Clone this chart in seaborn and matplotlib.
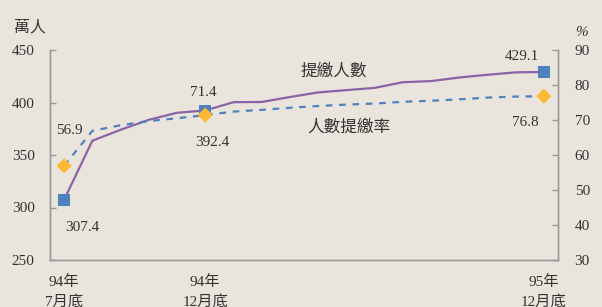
import matplotlib
matplotlib.use("Agg")
import matplotlib.pyplot as plt
import seaborn as sns
import pandas as pd
import numpy as np

months = ["94年7月", "94年8月", "94年9月", "94年10月", "94年11月", "94年12月",
          "95年1月", "95年2月", "95年3月", "95年4月", "95年5月", "95年6月",
          "95年7月", "95年8月", "95年9月", "95年10月", "95年11月", "95年12月"]
persons = [307.4, 363.6, 374.0, 383.5, 390.2, 392.4, 400.3, 400.5, 405.2, 409.6,
           411.8, 413.9, 419.3, 420.4, 423.8, 426.4, 428.7, 429.1]
rate = [56.9, 66.9, 68.5, 69.7, 70.5, 71.4, 72.4, 72.9, 73.5, 74.0,
        74.4, 74.7, 75.2, 75.5, 75.9, 76.4, 76.7, 76.8]
tick_labels = {0: "94年\n7月底", 5: "94年\n12月底", 17: "95年\n12月底"}
marked = [0, 5, 17]
left_label = "萬人"
right_label = "%"
persons_name = "提繳人數"
rate_name = "人數提繳率"

bg = "#E9E5DC"
purple = "#8C62A6"
blue = "#4F81BD"
orange = "#FDB836"
gray = "#9A9A9A"
txt = "#333333"

sns.set_style("white")
plt.rcParams["font.family"] = ["Liberation Serif", "Noto Sans CJK TC", "DejaVu Sans"]

df = pd.DataFrame({"i": np.arange(len(months)), "month": months,
                   "persons": persons, "rate": rate})
dm = df.iloc[marked]

fig = plt.figure(figsize=(6.02, 3.07), dpi=100, facecolor=bg)
ax = fig.add_axes([50 / 602, 47 / 307, 508 / 602, 210 / 307])
ax.set_facecolor(bg)
ax2 = ax.twinx()

sns.lineplot(data=df, x="i", y="persons", ax=ax, color=purple, lw=1.6, zorder=3)
sns.scatterplot(data=dm, x="i", y="persons", ax=ax, marker="s", s=70,
                color=blue, edgecolor="none", zorder=5)
sns.lineplot(data=df, x="i", y="rate", ax=ax2, color=blue, lw=1.6,
             dashes=False, zorder=3)
ax2.lines[-1].set_dashes((3, 3))
sns.scatterplot(data=dm, x="i", y="rate", ax=ax2, marker="D", s=60,
                color=orange, edgecolor="none", zorder=5)

ax.set_xlim(-0.5, len(months) - 0.5)
ax.set_ylim(250, 450)
ax2.set_ylim(30, 90)
ax.set_yticks([250, 300, 350, 400, 450])
ax2.set_yticks([30, 40, 50, 60, 70, 80, 90])
ax.set_xticks(np.arange(-0.5, len(months), 1.0))
ax.set_xticklabels([])
ax.set_xticks(list(tick_labels.keys()), minor=True)
ax.set_xticklabels(list(tick_labels.values()), minor=True, fontsize=11,
                   color=txt, linespacing=1.5, va="top")
ax.tick_params(axis="x", which="minor", length=0, pad=11)
ax.tick_params(axis="x", which="major", direction="in", length=4, color=gray, width=1)
ax.tick_params(axis="y", direction="in", length=4, color=gray, width=1,
               labelsize=11, labelcolor=txt, pad=11)
ax2.tick_params(axis="y", direction="in", length=4, color=gray, width=1,
                labelsize=11, labelcolor=txt, pad=12)
for a in (ax, ax2):
    a.set_xlabel("")
    a.set_ylabel("")
    a.spines["top"].set_visible(False)
    for s in ("left", "right", "bottom"):
        a.spines[s].set_color(gray)
        a.spines[s].set_linewidth(1)
ax.patch.set_visible(True)
ax2.patch.set_visible(False)

fig.text(14 / 602, 1 - 27 / 307, left_label, fontsize=11.5, color=txt, va="center", ha="left")
fig.text(581 / 602, 1 - 32 / 307, right_label, fontsize=11, color=txt, va="center",
         ha="center", style="italic")

def lbl(axis, xi, y, s, dx, dy):
    axis.annotate(s, (xi, y), xytext=(dx, dy), textcoords="offset pixels",
                  ha="center", va="center", fontsize=11, color=txt)

lbl(ax2, marked[0], rate[0], f"{rate[0]:.1f}", 5, 35)
lbl(ax, marked[0], persons[0], f"{persons[0]:.1f}", 18, -28)
lbl(ax2, marked[1], rate[5], f"{rate[5]:.1f}", -2, 23)
lbl(ax, marked[1], persons[5], f"{persons[5]:.1f}", 7, -32)
lbl(ax, marked[2], persons[17], f"{persons[17]:.1f}", -22, 15)
lbl(ax2, marked[2], rate[17], f"{rate[17]:.1f}", -19, -26)

ax.text(9.56, 429, persons_name, fontsize=12, color=txt, ha="center", va="center")
ax2.text(10.1, 67.7, rate_name, fontsize=12, color=txt, ha="center", va="center")

fig.savefig("out.png", dpi=100, facecolor=bg)
